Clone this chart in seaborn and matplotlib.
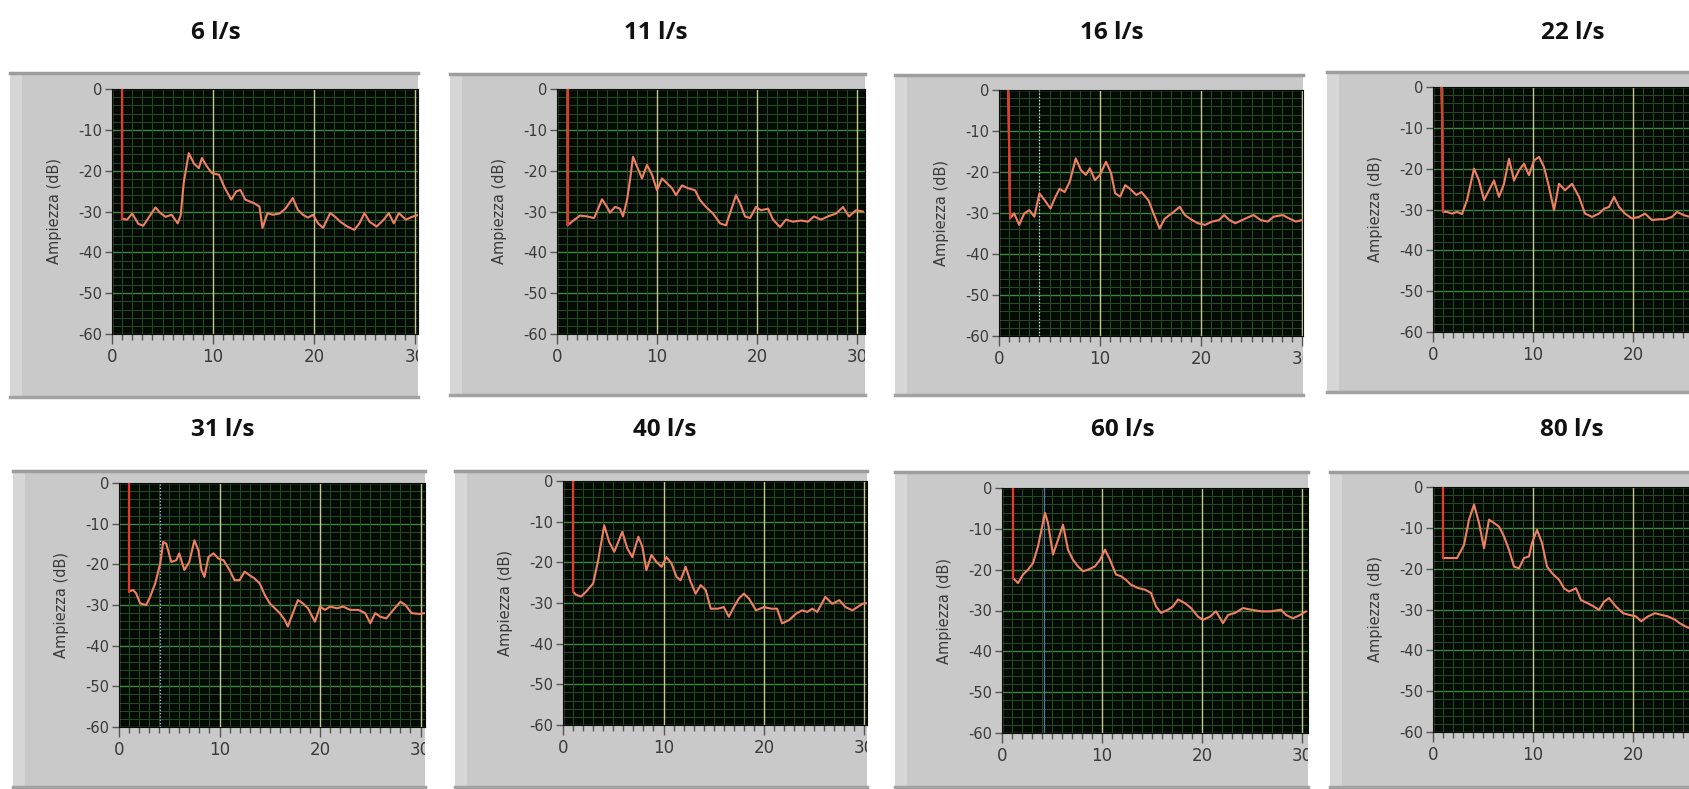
import matplotlib
matplotlib.use("Agg")
import matplotlib.pyplot as plt
from matplotlib.patches import Rectangle
from matplotlib.ticker import MultipleLocator
import pandas as pd
import seaborn as sns

W, H = 1689, 789

titles = ["6 l/s", "11 l/s", "16 l/s", "22 l/s", "31 l/s", "40 l/s", "60 l/s", "80 l/s"]

# spectra: (frequency, amplitude dB)
q06 = [(1.0, 0), (1.0, -31.8), (1.5, -32.0), (2.0, -30.5), (2.6, -33.0), (3.1, -33.5), (3.6, -31.6),
       (4.3, -29.0), (4.8, -30.4), (5.3, -31.3), (5.9, -30.8), (6.5, -32.9), (6.8, -31.0), (7.1, -23.0),
       (7.6, -15.7), (8.1, -18.2), (8.6, -19.4), (8.9, -16.9), (9.4, -19.0), (9.9, -20.6), (10.6, -21.0),
       (11.1, -23.9), (11.8, -27.1), (12.3, -25.1), (12.7, -24.7), (13.2, -27.1), (14.1, -28.0),
       (14.6, -28.8), (14.9, -34.0), (15.4, -30.4), (15.9, -30.8), (16.6, -30.5), (17.2, -29.2),
       (17.9, -26.7), (18.4, -29.6), (18.9, -30.8), (19.4, -31.5), (19.9, -30.8), (20.4, -32.9),
       (20.9, -34.0), (21.6, -30.4), (22.1, -31.3), (22.6, -32.5), (23.3, -33.7), (24.0, -34.5),
       (24.5, -32.9), (25.0, -30.4), (25.5, -32.5), (26.2, -33.7), (26.9, -32.0), (27.4, -30.4),
       (27.9, -32.9), (28.4, -30.4), (29.1, -32.0), (29.7, -31.3), (30.4, -30.8)]

q11 = [(1.05, 0), (1.05, -33.4), (1.5, -32.5), (2.3, -31.0), (3.0, -31.2), (3.7, -31.6), (4.0, -30.0),
       (4.5, -27.0), (5.0, -28.9), (5.3, -30.3), (5.8, -28.9), (6.3, -29.3), (6.6, -31.2), (7.0, -27.2),
       (7.3, -22.3), (7.6, -16.6), (8.0, -19.0), (8.5, -21.9), (9.0, -18.6), (9.5, -21.0), (10.0, -24.8),
       (10.5, -21.9), (11.0, -23.1), (11.5, -24.3), (11.9, -26.0), (12.5, -23.6), (13.1, -24.3),
       (13.8, -24.8), (14.3, -27.2), (14.9, -28.9), (15.6, -30.5), (16.3, -32.9), (16.9, -33.4),
       (17.4, -29.7), (17.9, -26.0), (18.3, -28.0), (18.8, -31.2), (19.3, -31.6), (19.9, -28.9),
       (20.4, -29.7), (21.1, -29.3), (21.6, -32.0), (22.3, -33.8), (22.9, -32.0), (23.6, -32.5),
       (24.4, -32.2), (25.1, -32.5), (25.7, -31.2), (26.4, -32.0), (27.1, -31.2), (27.9, -30.5),
       (28.6, -28.9), (29.2, -31.2), (29.9, -29.7), (30.6, -30.0)]

q16 = [(0.9, 0), (0.95, -5.0), (1.1, -31.3), (1.5, -30.1), (2.0, -32.9), (2.5, -30.1), (3.0, -29.3),
       (3.5, -30.9), (4.0, -25.2), (4.5, -26.8), (5.1, -28.9), (5.6, -26.0), (6.0, -24.1), (6.5, -24.9),
       (7.0, -22.4), (7.6, -16.7), (8.1, -19.5), (8.6, -20.7), (9.0, -19.1), (9.5, -22.0), (10.0, -20.7),
       (10.6, -17.5), (11.1, -20.3), (11.5, -25.2), (12.0, -26.0), (12.5, -23.2), (13.1, -24.4),
       (13.6, -25.6), (14.1, -24.9), (14.8, -26.9), (15.3, -30.1), (15.9, -33.8), (16.4, -31.4),
       (17.1, -30.1), (17.9, -28.5), (18.4, -30.5), (19.1, -31.7), (19.7, -32.5), (20.4, -32.9),
       (21.1, -32.1), (21.8, -31.7), (22.3, -30.5), (22.8, -31.7), (23.4, -32.5), (24.1, -31.7),
       (24.8, -30.9), (25.2, -30.5), (25.9, -31.7), (26.6, -32.1), (27.2, -30.9), (28.1, -30.5),
       (28.7, -31.3), (29.4, -32.1), (30.0, -31.7)]

q22 = [(0.85, 0), (0.9, -5.7), (1.0, -30.6), (1.4, -30.6), (1.9, -31.0), (2.4, -30.6), (2.9, -31.1),
       (3.4, -27.7), (4.1, -20.0), (4.6, -22.9), (5.1, -27.7), (5.6, -25.3), (6.1, -22.9), (6.6, -26.9),
       (7.1, -23.7), (7.6, -17.6), (8.1, -22.9), (8.6, -20.4), (9.1, -18.8), (9.6, -21.6), (10.1, -18.0),
       (10.6, -17.1), (11.1, -19.6), (11.6, -24.5), (12.1, -30.2), (12.6, -23.7), (13.2, -25.3),
       (13.9, -23.7), (14.6, -26.9), (15.2, -31.0), (15.9, -31.8), (16.6, -31.0), (17.1, -29.8),
       (17.6, -29.4), (18.1, -26.9), (18.6, -29.4), (19.2, -31.0), (19.9, -32.2), (20.6, -31.8),
       (21.2, -31.0), (21.9, -32.6), (22.6, -32.4), (23.2, -32.4), (23.9, -31.8), (24.4, -30.6),
       (25.1, -31.4), (25.7, -31.8)]

q31 = [(1.0, 0), (1.0, -26.7), (1.4, -26.3), (1.7, -27.1), (2.1, -29.6), (2.7, -30.0), (3.1, -28.0),
       (3.6, -24.7), (4.1, -19.8), (4.4, -14.5), (4.7, -14.9), (5.2, -19.4), (5.7, -19.0), (6.0, -17.3),
       (6.5, -21.4), (7.0, -19.4), (7.5, -14.1), (7.9, -16.5), (8.2, -21.4), (8.5, -23.1), (8.9, -18.2),
       (9.4, -17.3), (9.9, -18.6), (10.4, -19.0), (11.0, -21.4), (11.5, -23.9), (12.0, -23.9),
       (12.5, -21.8), (13.0, -22.7), (13.5, -23.5), (14.0, -24.7), (14.5, -27.5), (15.0, -29.6),
       (15.5, -30.8), (16.0, -32.0), (16.5, -33.7), (16.8, -35.3), (17.3, -32.0), (17.8, -28.8),
       (18.3, -29.6), (18.8, -30.8), (19.5, -34.1), (20.0, -30.4), (20.5, -31.2), (21.0, -30.4),
       (21.7, -30.8), (22.3, -30.4), (23.0, -31.2), (23.8, -31.2), (24.5, -32.0), (25.0, -34.5),
       (25.5, -32.0), (26.0, -32.9), (26.6, -33.3), (27.3, -31.2), (28.0, -29.2), (28.5, -30.0),
       (29.1, -32.0), (29.9, -32.2), (30.4, -32.0)]

q40 = [(1.0, 0), (1.0, -27.2), (1.3, -28.0), (1.8, -28.4), (2.3, -27.2), (3.0, -25.2), (3.5, -19.5),
       (4.1, -10.9), (4.6, -15.0), (5.1, -17.4), (5.9, -12.5), (6.4, -16.6), (6.9, -18.7), (7.5, -13.7),
       (7.9, -16.2), (8.3, -21.9), (8.8, -18.2), (9.3, -19.9), (9.8, -21.1), (10.3, -18.7), (10.8, -20.3),
       (11.3, -23.6), (11.7, -24.4), (12.2, -21.1), (12.7, -24.8), (13.2, -27.7), (13.7, -25.6),
       (14.2, -26.8), (14.7, -31.4), (15.4, -31.4), (16.0, -31.0), (16.5, -33.4), (17.0, -31.0),
       (17.5, -28.9), (18.0, -27.7), (18.5, -28.9), (19.2, -31.8), (20.0, -31.0), (20.7, -31.4),
       (21.3, -31.4), (21.8, -35.0), (22.5, -34.2), (23.2, -32.6), (23.8, -31.8), (24.3, -32.2),
       (24.8, -31.4), (25.3, -32.2), (26.1, -28.5), (26.8, -30.2), (27.5, -29.3), (28.1, -31.0),
       (28.8, -31.8), (29.3, -31.0), (29.8, -30.2), (30.3, -30.0)]

q60 = [(1.1, 0), (1.1, -22.0), (1.6, -23.3), (2.1, -21.2), (2.6, -20.0), (3.1, -18.4), (3.6, -14.3),
       (4.3, -6.1), (4.6, -8.6), (5.1, -16.3), (5.6, -12.7), (6.1, -9.0), (6.6, -15.1), (7.1, -17.6),
       (7.6, -19.2), (8.1, -20.4), (8.6, -20.0), (9.3, -19.2), (9.8, -17.6), (10.3, -15.1), (10.8, -17.6),
       (11.4, -21.2), (11.9, -21.6), (12.4, -22.5), (12.9, -23.7), (13.6, -24.5), (14.3, -24.9),
       (14.9, -25.7), (15.4, -29.0), (15.9, -30.6), (16.6, -29.8), (17.1, -29.0), (17.6, -27.3),
       (18.3, -28.2), (18.9, -29.4), (19.6, -31.5), (20.1, -32.3), (20.8, -31.5), (21.4, -30.2),
       (22.1, -33.1), (22.6, -31.1), (23.3, -30.6), (24.1, -29.4), (24.9, -29.8), (25.9, -30.2),
       (26.9, -30.2), (27.9, -29.8), (28.4, -31.1), (29.1, -31.9), (29.8, -31.1), (30.4, -30.2)]

q80 = [(1.0, 0), (1.0, -17.4), (1.6, -17.4), (2.4, -17.4), (3.1, -14.2), (3.6, -8.0), (4.1, -4.3),
       (4.6, -8.8), (5.1, -15.0), (5.6, -8.0), (6.1, -8.8), (6.6, -9.7), (7.1, -12.1), (7.6, -15.4),
       (8.1, -19.5), (8.6, -19.9), (9.1, -17.4), (9.6, -17.0), (9.9, -13.7), (10.4, -10.5), (10.9, -13.7),
       (11.4, -19.5), (11.9, -21.1), (12.6, -22.7), (13.1, -24.8), (13.6, -25.6), (14.3, -24.8),
       (14.8, -27.7), (15.5, -28.5), (16.1, -29.3), (16.6, -30.1), (17.1, -28.1), (17.6, -27.2),
       (18.3, -29.3), (19.0, -30.9), (19.6, -31.3), (20.3, -31.7), (20.8, -32.9), (21.5, -31.7),
       (22.2, -30.9), (22.8, -31.3), (23.5, -31.7), (24.2, -32.5), (24.7, -33.4), (25.3, -34.2),
       (25.7, -34.6)]

spectra = [q06, q11, q16, q22, q31, q40, q60, q80]

# cursor lines shown in some panels: panel index -> (x, colour, style)
cursors = {2: (4.0, "#dde8ee", ":"), 4: (4.05, "#a9c6ef", ":"), 6: (4.2, "#5a78a8", "-")}

# pixel layout: frame box, plot left/top/bottom, pixels per unit, title centre
layout = [
    dict(frame=(10, 73, 418, 397), left=112, top=89, bottom=334, ppu=10.1, title=(216, 33)),
    dict(frame=(450, 74, 865, 395), left=557, top=89, bottom=334, ppu=10.0, title=(656, 33)),
    dict(frame=(895, 75, 1303, 395), left=999, top=90, bottom=336, ppu=10.1, title=(1112, 33)),
    dict(frame=(1327, 72, 1689, 392), left=1433, top=87, bottom=332, ppu=10.0, title=(1573, 33)),
    dict(frame=(13, 471, 425, 787), left=119, top=483, bottom=727, ppu=10.05, title=(223, 430)),
    dict(frame=(455, 471, 867, 787), left=563, top=481, bottom=725, ppu=10.05, title=(665, 430)),
    dict(frame=(895, 472, 1308, 787), left=1002, top=488, bottom=733, ppu=10.0, title=(1123, 430)),
    dict(frame=(1330, 472, 1689, 787), left=1433, top=487, bottom=732, ppu=10.0, title=(1572, 430)),
]


def px_axes(fig, x0, y0, x1, y1, z):
    return fig.add_axes([x0 / W, 1 - y1 / H, (x1 - x0) / W, (y1 - y0) / H], zorder=z)


sns.set_style("ticks")
plt.rcParams["font.family"] = ["DejaVu Sans"]
plt.rcParams["axes.unicode_minus"] = False

fig = plt.figure(figsize=(W / 100, H / 100), dpi=100, facecolor="white")

for i, (spec, lay) in enumerate(zip(spectra, layout)):
    fx0, fy0, fx1, fy1 = lay["frame"]
    frame = px_axes(fig, fx0, fy0, fx1, fy1, 1)
    frame.set_facecolor("#c9c9c9")
    frame.set_xticks([])
    frame.set_yticks([])
    for side in ["left", "right"]:
        frame.spines[side].set_visible(False)
    frame.spines["top"].set_color("#9d9d9d")
    frame.spines["top"].set_linewidth(2.5)
    frame.spines["bottom"].set_color("#a2a2a2")
    frame.spines["bottom"].set_linewidth(2.5)
    frame.add_patch(Rectangle((0, 0), 12 / (fx1 - fx0), 1, transform=frame.transAxes,
                              color="#d6d6d6", lw=0))

    right = fx1
    ax = px_axes(fig, lay["left"], lay["top"], right, lay["bottom"], 2)
    xmax = (right - lay["left"]) / lay["ppu"]
    ax.set_facecolor("#040a04")

    df = pd.DataFrame(spec, columns=["freq", "amp"])
    if i in cursors:
        cx, cc, cs = cursors[i]
        ax.axvline(cx, color=cc, lw=0.9, ls=cs, zorder=3)
    sns.lineplot(data=df, x="freq", y="amp", ax=ax, color="#f0805f", lw=1.5,
                 estimator=None, sort=False, zorder=4)
    sns.lineplot(data=df[df["freq"] <= 1.1], x="freq", y="amp", ax=ax, color="#e33a2c",
                 lw=1.6, estimator=None, sort=False, zorder=5)

    ax.xaxis.set_major_locator(MultipleLocator(10))
    ax.xaxis.set_minor_locator(MultipleLocator(1))
    ax.yaxis.set_major_locator(MultipleLocator(10))
    ax.yaxis.set_minor_locator(MultipleLocator(2))

    ax.grid(which="minor", color="#294a29", lw=0.7)
    ax.xaxis.grid(True, which="major", color="#c4c98e", lw=1.0)
    ax.yaxis.grid(True, which="major", color="#3f873f", lw=1.0)
    ax.set_axisbelow(True)
    # draw the vertical grid after the horizontal one so the bright lines stay solid
    ax.xaxis.set_zorder(0.6)

    for sp in ax.spines.values():
        sp.set_color("#0a0a0a")
        sp.set_linewidth(0.8)

    ax.tick_params(axis="x", which="major", direction="out", length=7, width=1.0,
                   color="#555555", labelsize=12, labelcolor="#3a3a3a", pad=3)
    ax.tick_params(axis="x", which="minor", direction="out", length=4, width=1.0, color="#555555")
    ax.tick_params(axis="y", which="major", direction="out", length=5, width=1.0,
                   color="#555555", labelsize=10.5, labelcolor="#3a3a3a", pad=2)
    ax.tick_params(axis="y", which="minor", length=0)

    ax.set_xticks([0, 10, 20, 30])
    ax.set_xlim(0, xmax)
    ax.set_ylim(-60, 0)
    ax.set_yticks([0, -10, -20, -30, -40, -50, -60])
    ax.set_yticklabels(["0", "-10", "-20", "-30", "-40", "-50", "-60"])
    for lbl in ax.get_xticklabels():
        lbl.set_clip_box(frame.bbox)
        lbl.set_clip_on(True)

    ax.set_xlabel("")
    ax.set_ylabel("Ampiezza (dB)", fontsize=10.5, color="#3a3a3a")
    ax.yaxis.set_label_coords(-50 / (right - lay["left"]), 0.5)

    tx, ty = lay["title"]
    fig.text(tx / W, 1 - ty / H, titles[i], ha="center", va="center", fontsize=17.5,
             fontweight="bold", family=["Open Sans", "DejaVu Sans"], color="#111111")

fig.savefig("out.png", dpi=100, facecolor="white")
